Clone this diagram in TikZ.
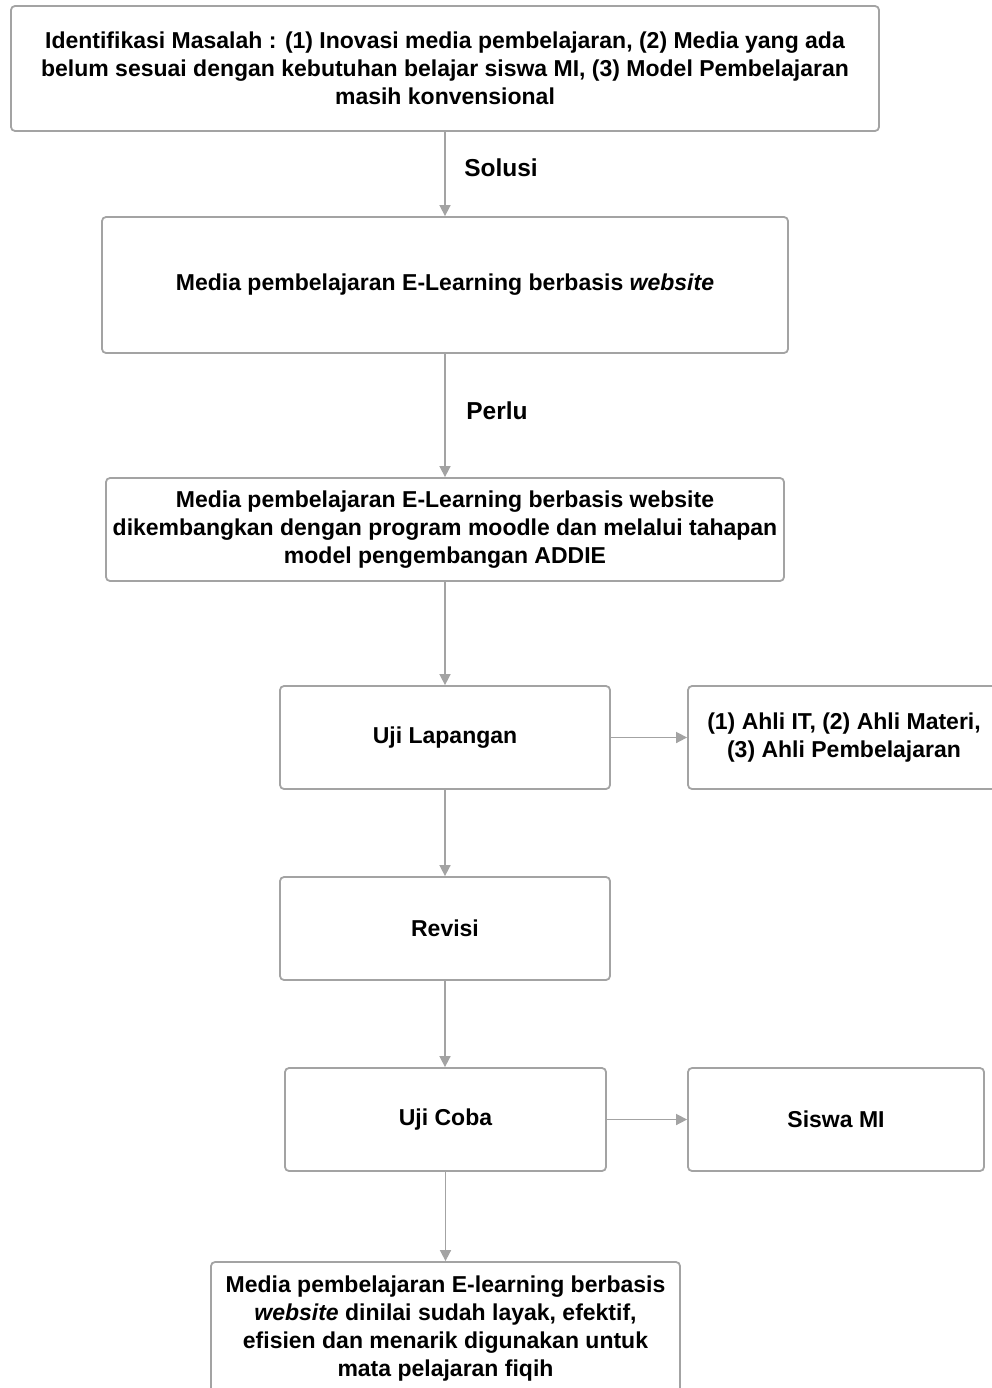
\documentclass[tikz,border=0pt]{standalone}
\usepackage{fontspec}
\setmainfont{Liberation Sans}
\usetikzlibrary{positioning,arrows.meta}
\definecolor{garis}{HTML}{A3A3A3}

\begin{document}
\begin{tikzpicture}
[x=1pt, y=1pt,
every node/.style={font=\fontsize{23}{28}\selectfont\bfseries},
% The kotak style is used for every step of the flow
kotak/.style={rectangle, draw=garis, line width=1.8pt, rounded corners=4pt, align=center, inner sep=0pt},
% The panah style is used for the connectors
panah/.style={draw=garis, line width=1.6pt, -{Triangle[length=11pt,width=11pt]}},
% The ket style is used for the words on the connectors
ket/.style={inner sep=0pt, font=\fontsize{24.5}{28}\selectfont\bfseries}
]
\useasboundingbox (0,0) rectangle (992,-1388);
% Draw steps
\node[kotak, minimum width=868, minimum height=125] (masalah) at (445,-68.5)
  {Identifikasi Masalah : (1) Inovasi media pembelajaran, (2) Media yang ada\\
   belum sesuai dengan kebutuhan belajar siswa MI, (3) Model Pembelajaran\\
   masih konvensional};
\node[kotak, minimum width=686, minimum height=136] (media) at (445,-285)
  {Media pembelajaran E-Learning berbasis \textit{website}};
\node[kotak, minimum width=678, minimum height=103] (moodle) at (445,-529.5)
  {Media pembelajaran E-Learning berbasis website\\
   dikembangkan dengan program moodle dan melalui tahapan\\
   model pengembangan ADDIE};
\node[kotak, minimum width=330, minimum height=103] (lapangan) at (445,-737.5) {Uji Lapangan};
\node[kotak, minimum width=312, minimum height=103] (ahli) at (844,-737.5)
  {(1) Ahli IT, (2) Ahli Materi,\\ (3) Ahli Pembelajaran};
\node[kotak, minimum width=330, minimum height=103] (revisi) at (445,-928.5) {Revisi};
\node[kotak, minimum width=321, minimum height=103] (ujicoba) at (445.5,-1119.5) {Uji Coba};
\node[kotak, minimum width=296, minimum height=103] (siswa) at (836,-1119.5) {Siswa MI};
\node[kotak, minimum width=469, minimum height=133] (hasil) at (445.5,-1328.5)
  {Media pembelajaran E-learning berbasis\\
   \textit{website} dinilai sudah layak, efektif,\\
   efisien dan menarik digunakan untuk\\
   mata pelajaran fiqih};
% Draw words on connectors
\node[ket] (solusi) at (501,-168) {Solusi};
\node[ket] (perlu) at (497,-411) {Perlu};
% Draw connectors
\draw[panah] (masalah) -- (media);
\draw[panah] (media) -- (moodle);
\draw[panah] (moodle) -- (lapangan);
\draw[panah] (lapangan) -- (ahli);
\draw[panah] (lapangan) -- (revisi);
\draw[panah] (revisi) -- (ujicoba.north -| revisi.south);
\draw[panah] (ujicoba) -- (siswa);
\draw[panah] (ujicoba) -- (hasil);
\end{tikzpicture}
\end{document}
